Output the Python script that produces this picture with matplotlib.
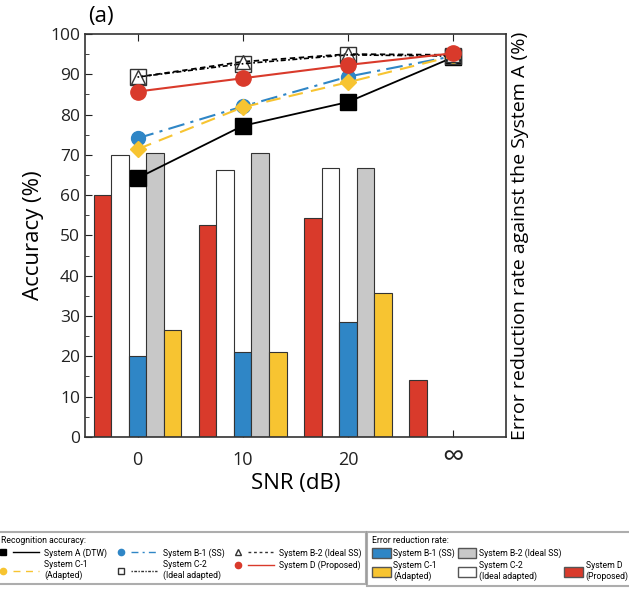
import numpy as np
import matplotlib
matplotlib.use('Agg')
import matplotlib.pyplot as plt
from matplotlib.lines import Line2D
from matplotlib.patches import Patch
from matplotlib.legend_handler import HandlerLine2D
from matplotlib.ticker import MultipleLocator

plt.rcParams['font.family'] = ['Open Sans', 'DejaVu Sans']

snr_labels = ['0', '10', '20', '\u221e']

# recognition accuracy (%)
acc_a = [64.2, 77.2, 83.1, 94.2]
acc_b1 = [74.1, 82.0, 89.4, 94.5]
acc_c1 = [71.4, 81.8, 88.0, 94.5]
acc_b2 = [89.3, 93.1, 95.0, 94.8]
acc_c2 = [89.3, 92.6, 94.8, 94.5]
acc_d = [85.7, 89.0, 92.3, 95.2]

# error reduction rate against System A (%)
err_d = [60.0, 52.6, 54.3, 14.2]
err_c2 = [70.0, 66.3, 66.7, 0]
err_b1 = [20.0, 21.1, 28.5, 0]
err_b2 = [70.5, 70.5, 66.7, 0]
err_c1 = [26.5, 21.0, 35.6, 0]

RED = '#d93a2b'
BLUE = '#2f86c6'
GRAY = '#c8c8c8'
YEL = '#f7c431'


class MarkerFirst(HandlerLine2D):
    # marker on the left, line to the right of it
    def create_artists(self, legend, orig, xdescent, ydescent, width, height, fontsize, trans):
        y = height / 2 - ydescent
        mk = Line2D([-xdescent + 2], [y], ls='none')
        mk.update_from(orig)
        mk.set_linestyle('none')
        mk.set_transform(trans)
        ln = Line2D([-xdescent + 9, -xdescent + width], [y, y])
        ln.update_from(orig)
        ln.set_marker('')
        ln.set_transform(trans)
        return [ln, mk]


fig = plt.figure(figsize=(6.29, 6.06), dpi=100)
ax = fig.add_axes([0.135, 0.279, 0.669, 0.665])

x = np.arange(len(snr_labels))
w = 1 / 6.
bar_sets = [(err_d, RED), (err_c2, 'white'), (err_b1, BLUE), (err_b2, GRAY), (err_c1, YEL)]
for i, (vals, col) in enumerate(bar_sets):
    v = np.array(vals, dtype=float)
    m = v > 0
    ax.bar(x[m] + (i - 2) * w, v[m], width=w, color=col, edgecolor='#333333',
           linewidth=0.8, zorder=2)

ax.plot(x, acc_a, '-', color='black', lw=1.3, marker='s', ms=11, mfc='black',
        mec='black', zorder=4)
ax.plot(x, acc_b1, color=BLUE, lw=1.5, ls=(0, (8, 3, 1.5, 3)), marker='o', ms=10,
        mec=BLUE, zorder=4)
ax.plot(x, acc_c1, color=YEL, lw=1.5, ls=(0, (7, 4)), marker='D', ms=8,
        mec=YEL, zorder=4)
ax.plot(x, acc_b2, color='black', lw=1.3, ls=(0, (3, 2)), marker='^', ms=10,
        mfc='white', mec='#333333', zorder=5)
ax.plot(x, acc_c2, color='black', lw=1.2, ls=(0, (1, 1.5, 3, 1.5)), marker='s', ms=11,
        mfc='none', mec='#333333', zorder=5)
ax.plot(x, acc_d, '-', color=RED, lw=1.5, marker='o', ms=11, mec=RED, zorder=6)

ax.set_xlim(-0.5, 3.5)
ax.set_ylim(0, 100)
ax.set_xticks(x)
ax.set_xticklabels(snr_labels)
ax.yaxis.set_major_locator(MultipleLocator(10))
ax.yaxis.set_minor_locator(MultipleLocator(5))
ax.tick_params(axis='both', which='both', direction='in', top=True, right=True,
               labelsize=12.5, colors='#222222')
ax.tick_params(axis='x', labelsize=13, pad=10)
ax.tick_params(which='major', length=5)
ax.tick_params(which='minor', length=3)
ax.get_xticklabels()[3].set_fontsize(22)
ax.get_xticklabels()[3].set_y(0.018)
for s in ax.spines.values():
    s.set_linewidth(1.2)
    s.set_color('#333333')

ax.set_xlabel('SNR (dB)', fontsize=16)
ax.xaxis.set_label_coords(0.5, -0.09)
ax.set_ylabel('Accuracy (%)', fontsize=16, labelpad=4)
ax2 = ax.twinx()
ax2.set_ylim(0, 100)
ax2.yaxis.set_major_locator(MultipleLocator(10))
ax2.tick_params(axis='y', direction='in', length=0, labelright=False)
ax2.set_ylabel('Error reduction rate against the System A (%)', fontsize=14, labelpad=4)
ax2.spines[:].set_visible(False)

fig.text(0.14, 0.955, '(a)', fontsize=16, ha='left', va='bottom')

leg_font = {'family': ['Roboto', 'DejaVu Sans'], 'size': 6.2}

# legend: recognition accuracy
h_acc = [
    Line2D([], [], color='black', lw=1, marker='s', ms=4.5, mfc='black'),
    Line2D([], [], color=YEL, lw=1, ls=(0, (5, 4)), marker='o', ms=4.5, mfc=YEL, mec=YEL),
    Line2D([], [], color=BLUE, lw=1, ls=(0, (5, 3, 1.5, 3)), marker='o', ms=4.5, mfc=BLUE, mec=BLUE),
    Line2D([], [], color='#333333', lw=1, ls=(0, (1, 1, 2, 1)), marker='s', ms=5, mfc='white', mec='#333333'),
    Line2D([], [], color='#333333', lw=1, ls=(0, (2, 2)), marker='^', ms=5, mfc='white', mec='#333333'),
    Line2D([], [], color=RED, lw=1, marker='o', ms=4.5, mfc=RED, mec=RED),
]
l_acc = ['System A (DTW)', 'System C-1\n(Adapted)', 'System B-1 (SS)',
         'System C-2\n(Ideal adapted)', 'System B-2 (Ideal SS)', 'System D (Proposed)']
leg1 = fig.legend(h_acc, l_acc, ncol=3, loc='upper left', bbox_to_anchor=(-0.006, 0.122),
                  title='Recognition accuracy:', prop=leg_font, title_fontproperties=leg_font,
                  alignment='left', handlelength=4.5, columnspacing=1.3, labelspacing=0.3,
                  fancybox=False, edgecolor='#999999', borderpad=0.5, handletextpad=0.6,
                  borderaxespad=0, handler_map={Line2D: MarkerFirst()})
leg1.get_frame().set_linewidth(1.5)

h_err = [
    Patch(facecolor=BLUE, edgecolor='#555555'),
    Patch(facecolor=YEL, edgecolor='#555555'),
    Patch(facecolor=GRAY, edgecolor='#555555'),
    Patch(facecolor='white', edgecolor='#555555'),
    Patch(facecolor='none', edgecolor='none'),
    Patch(facecolor=RED, edgecolor='#555555'),
]
l_err = ['System B-1 (SS)', 'System C-1\n(Adapted)', 'System B-2 (Ideal SS)',
         'System C-2\n(Ideal adapted)', '', 'System D\n(Proposed)']
leg2 = fig.legend(h_err, l_err, ncol=3, loc='upper left', bbox_to_anchor=(0.584, 0.122),
                  title='Error reduction rate:', prop=leg_font, title_fontproperties=leg_font,
                  alignment='left', handlelength=2.2, handleheight=1.4, columnspacing=0.3,
                  labelspacing=0.35, fancybox=False, edgecolor='#999999', borderpad=0.5,
                  handletextpad=0.3, borderaxespad=0)
leg2.get_frame().set_linewidth(1.5)

fig.savefig('out.png', dpi=100)
